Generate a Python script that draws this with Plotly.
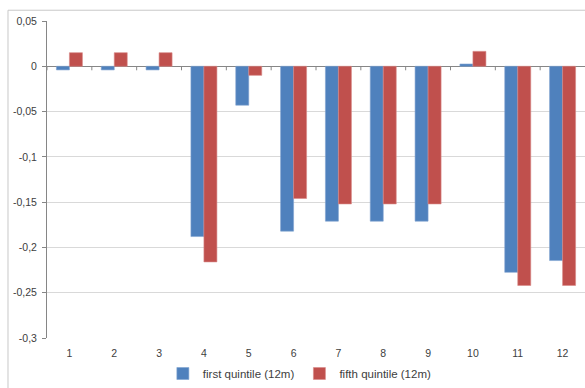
import plotly.graph_objects as go

categories = [str(i) for i in range(1, 13)]
first_quintile = [-0.004, -0.004, -0.004, -0.188, -0.043, -0.182,
                  -0.171, -0.171, -0.171, 0.0025, -0.2275, -0.2145]
fifth_quintile = [0.015, 0.015, 0.015, -0.216, -0.010, -0.146,
                  -0.152, -0.152, -0.152, 0.0165, -0.242, -0.242]
y_ticks = [0.05, 0, -0.05, -0.1, -0.15, -0.2, -0.25, -0.3]
y_tick_text = ["0,05", "0", "-0,05", "-0,1", "-0,15", "-0,2", "-0,25", "-0,3"]

x_pos = list(range(1, 13))
font = dict(family="Liberation Sans, Arial, sans-serif", size=10, color="#404040")

fig = go.Figure()
fig.add_trace(go.Bar(
    x=x_pos, y=first_quintile, name="first quintile (12m)",
    marker=dict(color="#4F81BD", line=dict(color="#7FA3D0", width=0.6)),
))
fig.add_trace(go.Bar(
    x=x_pos, y=fifth_quintile, name="fifth quintile (12m)",
    marker=dict(color="#C0504D", line=dict(color="#D88A88", width=0.6)),
))

# category separator ticks hanging from the zero line
shapes = []
for b in [k + 0.5 for k in range(0, 12)]:
    shapes.append(dict(type="line", xref="x", yref="y", ysizemode="pixel",
                       yanchor=0, x0=b, x1=b, y0=0, y1=-4,
                       line=dict(color="#868686", width=1)))
# chart-area border (left and top edges)
shapes.append(dict(type="line", xref="paper", yref="paper",
                   x0=-0.0725, x1=-0.0725, y0=1.034, y1=-0.2,
                   line=dict(color="#C8C8C8", width=1)))
shapes.append(dict(type="line", xref="paper", yref="paper",
                   x0=-0.0725, x1=1.01, y0=1.034, y1=1.034,
                   line=dict(color="#C8C8C8", width=1)))

fig.update_layout(
    width=585, height=388,
    margin=dict(l=47, r=0, t=21, b=45),
    paper_bgcolor="white", plot_bgcolor="white",
    barmode="group", bargap=0.42, bargroupgap=0,
    font=font,
    showlegend=True,
    legend=dict(orientation="h", x=0.47, xanchor="center", y=-0.112,
                yanchor="middle", font=dict(size=11.5, color="#404040"),
                itemwidth=30, tracegroupgap=0),
    shapes=shapes,
    xaxis=dict(range=[0.5, 12.5], tickvals=x_pos, ticktext=categories,
               showgrid=False, showline=False, ticks="", zeroline=False,
               ticklabelstandoff=7,
               tickfont=dict(size=10.5, color="#404040")),
    yaxis=dict(range=[-0.3, 0.05], tickvals=y_ticks, ticktext=y_tick_text,
               showgrid=True, gridcolor="#D9D9D9", gridwidth=1,
               zeroline=True, zerolinecolor="#868686", zerolinewidth=1,
               showline=True, linecolor="#868686", linewidth=1,
               ticks="outside", ticklen=4, tickcolor="#868686",
               ticklabelstandoff=3,
               tickfont=dict(size=10.5, color="#404040")),
)

fig.write_html("out.html")
